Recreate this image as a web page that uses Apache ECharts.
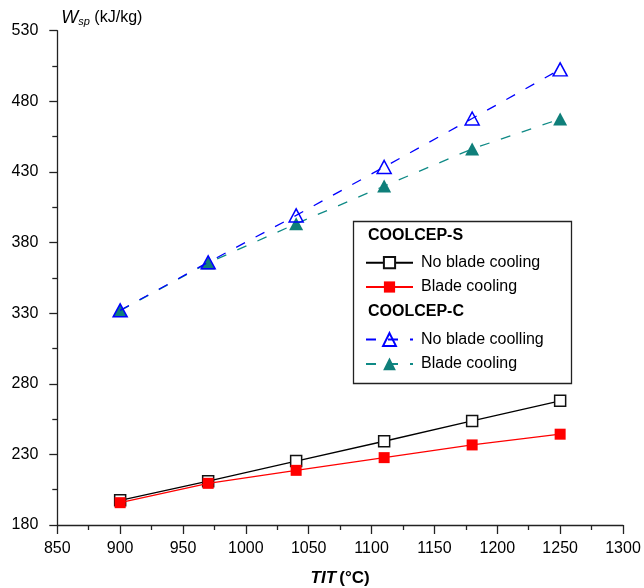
<!DOCTYPE html>
<html>
<head>
<meta charset="utf-8">
<script src="https://cdn.jsdelivr.net/npm/echarts@6/dist/echarts.min.js"></script>
<style>html,body{margin:0;padding:0;background:#fff}#c{width:644px;height:588px}</style>
</head>
<body>
<div id="c"></div>
<script>
var tit = [900, 970, 1040, 1110, 1180, 1250];
var sNoCooling = [197.5, 211, 225.3, 239.3, 253.7, 267.9];
var sCooling = [195.8, 209.5, 218.7, 227.7, 236.7, 244.3];
var cNoCooling = [332, 366, 399.2, 433.5, 467.8, 502.6];
var cCooling = [331.8, 365.6, 393.3, 420, 446.3, 467.5];
var nameSNo = 'No blade cooling';
var nameSYes = 'Blade cooling';
var nameCNo = 'No blade coolling';
var nameCYes = 'Blade cooling ';

function pairs(ys){ return tit.map(function(x,i){ return [x, ys[i]]; }); }

var chart = echarts.init(document.getElementById('c'));
var font = 'Liberation Sans, Arial, sans-serif';
var axisCol = '#222';
chart.setOption({
  animation: false,
  textStyle: {fontFamily: font},
  grid: {left: 57.3, right: 21, top: 30.7, bottom: 63, containLabel: false, outerBoundsMode: 'none'},
  xAxis: {
    type: 'value', min: 850, max: 1300, interval: 50,
    name: '{it|TIT} {b|(°C)}', nameLocation: 'middle', nameGap: 45,
    nameTextStyle: {rich: {
      it: {fontSize: 17, fontWeight: 'bold', fontStyle: 'italic', fontFamily: font, color: '#000'},
      b: {fontSize: 17, fontWeight: 'bold', fontFamily: font, color: '#000'}
    }},
    axisLine: {lineStyle: {color: axisCol, width: 1.3}},
    axisTick: {length: 9, inside: false, lineStyle: {color: axisCol, width: 1.3}},
    minorTick: {show: true, splitNumber: 2, length: 5, lineStyle: {color: axisCol, width: 1.3}},
    axisLabel: {fontSize: 16, color: '#000', margin: 16, fontFamily: font, formatter: function(v){ return String(v); }},
    splitLine: {show: false}
  },
  yAxis: {
    type: 'value', min: 180, max: 530, interval: 50,
    name: '{w|W}{s|sp}{t| (kJ/kg)}', nameLocation: 'end', nameGap: 3,
    nameTextStyle: {align: 'left', verticalAlign: 'bottom', padding: [0, 0, 0, 4], rich: {
      w: {fontSize: 18, fontStyle: 'italic', fontFamily: font, color: '#000'},
      s: {fontSize: 11, fontStyle: 'italic', fontFamily: font, color: '#000', padding: [9, 0, 0, 0]},
      t: {fontSize: 16, fontFamily: font, color: '#000'}
    }},
    axisLine: {show: true, lineStyle: {color: axisCol, width: 1.3}},
    axisTick: {show: true, length: 8, lineStyle: {color: axisCol, width: 1.3}},
    minorTick: {show: true, splitNumber: 2, length: 5, lineStyle: {color: axisCol, width: 1.3}},
    axisLabel: {fontSize: 16, color: '#000', margin: 19, fontFamily: font, formatter: function(v){ return String(v); }},
    splitLine: {show: false}
  },
  legend: [{
    orient: 'vertical', left: 360, top: 249.7,
    itemWidth: 47, itemHeight: 14, itemGap: 8.3,
    textStyle: {fontSize: 16, color: '#000', lineHeight: 16, fontFamily: font, padding: [0, 0, 0, 3]},
    data: [nameSNo, nameSYes]
  }, {
    orient: 'vertical', left: 360, top: 326.5,
    itemWidth: 47, itemHeight: 16, itemGap: 8.4,
    textStyle: {fontSize: 16, color: '#000', lineHeight: 16, fontFamily: font, padding: [0, 0, 0, 3]},
    data: [nameCNo, nameCYes]
  }],
  graphic: [
    {type: 'rect', left: 351, top: 219, shape: {width: 218, height: 162}, style: {fill: 'none', stroke: '#222', lineWidth: 1.3}, z: 10},
    {type: 'text', left: 368, top: 228, style: {text: 'COOLCEP-S', font: 'bold 16px ' + font, fill: '#000'}, z: 10},
    {type: 'text', left: 368, top: 304, style: {text: 'COOLCEP-C', font: 'bold 16px ' + font, fill: '#000'}, z: 10}
  ],
  series: [
    {name: nameSNo, type: 'line', data: pairs(sNoCooling), symbol: 'rect', symbolSize: 11,
     lineStyle: {color: '#000', width: 1.3}, itemStyle: {color: '#fff', borderColor: '#111', borderWidth: 1.5}, z: 3},
    {name: nameSYes, type: 'line', data: pairs(sCooling), symbol: 'rect', symbolSize: 11,
     lineStyle: {color: '#ff0000', width: 1.3}, itemStyle: {color: '#ff0000', borderColor: '#ff0000', borderWidth: 0}, z: 4},
    {name: nameCYes, type: 'line', data: pairs(cCooling), symbol: 'triangle', symbolSize: [14, 13],
     lineStyle: {color: '#0f8a86', width: 1.3, type: [10, 12]}, itemStyle: {color: '#0f7f7a', borderWidth: 0}, z: 3},
    {name: nameCNo, type: 'line', data: pairs(cNoCooling), symbol: 'triangle', symbolSize: [14, 13],
     lineStyle: {color: '#0000ff', width: 1.3, type: [10, 12]}, itemStyle: {color: 'rgba(255,255,255,0)', borderColor: '#0000ff', borderWidth: 1.5}, z: 4}
  ]
});
</script>
</body>
</html>
